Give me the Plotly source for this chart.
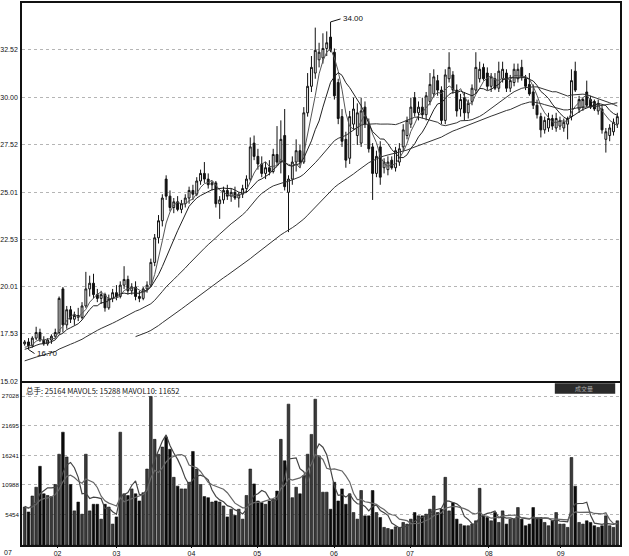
import plotly.graph_objects as go
from plotly.subplots import make_subplots

# ---------------- data ----------------
pre_closes = [15.2, 15.3, 15.1, 15.4, 15.5, 15.3, 15.6, 15.5, 15.7, 15.6,
              15.8, 15.9, 15.7, 16.0, 16.1, 15.9, 16.2, 16.3, 16.1, 16.4,
              16.5, 16.4, 16.6, 16.7, 16.5, 16.8, 16.7, 16.9, 16.6, 16.8]
pre_volumes = [5200, 6100, 7400, 5800, 6900, 6300, 7700, 6600, 7200, 6800]

opens = [17.0, 17.1, 16.9, 17.3, 17.6, 17.2, 17.0, 17.2, 17.4, 17.6,
         19.9, 18.0, 18.8, 18.3, 18.5, 18.4, 19.0, 19.9, 20.2, 19.6,
         19.4, 19.6, 18.9, 19.4, 19.7, 19.5, 20.1, 20.4, 19.8, 20.0,
         19.5, 19.4, 19.9, 20.1, 21.3, 22.6, 23.5, 25.7, 24.8, 24.2,
         24.5, 24.1, 24.4, 24.7, 25.1, 24.9, 25.6, 26.0, 25.7, 25.4,
         25.5, 24.4, 24.6, 25.1, 24.8, 25.0, 24.7, 24.9, 25.2, 25.7,
         27.6, 26.9, 26.5, 26.0, 26.3, 26.1, 27.0, 26.6, 28.0, 25.0,
         25.7, 26.6, 27.2, 26.6, 29.2, 30.6, 31.3, 32.0, 32.1, 32.6,
         33.2, 32.4, 30.8, 29.0, 27.8, 26.8, 28.6, 28.0, 27.6, 29.5,
         28.6, 27.4, 26.0, 27.4, 26.3, 26.2, 26.7, 26.3, 26.6, 27.4,
         28.0, 28.6, 30.0, 29.2, 29.5, 29.1, 29.8, 30.2, 30.9, 30.4,
         28.8, 31.0, 31.2, 30.4, 29.4, 30.0, 29.2, 29.8, 30.4, 31.0,
         31.6, 31.3, 30.6, 31.0, 30.5, 31.0, 31.3, 30.5, 30.8, 31.0,
         31.6, 31.0, 30.7, 30.3, 29.6, 29.0, 28.3, 28.4, 28.9, 28.4,
         28.5, 28.4, 28.6, 29.0, 31.4, 29.4, 29.5, 30.3, 29.9, 29.8,
         29.3, 29.4, 27.8, 28.0, 28.2, 28.6]
highs = [17.2, 17.3, 17.4, 17.9, 17.8, 17.4, 17.3, 17.5, 17.8, 19.5,
         20.0, 19.0, 19.0, 18.7, 18.9, 19.2, 20.8, 20.6, 20.7, 19.9,
         19.8, 19.7, 19.6, 19.9, 20.1, 20.3, 21.1, 20.6, 20.2, 20.3,
         19.8, 20.0, 20.3, 21.5, 22.8, 23.8, 24.9, 25.9, 25.1, 24.7,
         24.8, 24.6, 24.9, 25.3, 25.4, 25.8, 26.2, 26.6, 26.0, 25.6,
         25.6, 24.8, 25.3, 25.4, 25.2, 25.3, 25.0, 25.4, 25.9, 27.9,
         28.0, 27.3, 26.9, 26.6, 26.7, 27.3, 28.5, 28.8, 29.4, 25.9,
         26.9, 27.8, 27.5, 29.5, 31.3, 32.2, 33.7, 32.9, 33.4, 33.5,
         34.0, 32.6, 31.0, 29.4, 28.2, 29.3, 30.0, 29.7, 30.0, 29.8,
         28.9, 27.6, 27.2, 27.7, 26.8, 26.9, 26.9, 27.4, 27.6, 28.6,
         29.0, 30.0, 30.3, 29.8, 30.0, 30.3, 31.3, 31.5, 31.2, 30.6,
         31.5, 32.4, 31.4, 30.7, 30.2, 30.3, 29.9, 30.7, 32.4, 31.9,
         31.8, 31.6, 31.3, 31.3, 31.9, 31.9, 31.5, 31.2, 31.8, 31.8,
         32.0, 31.2, 31.3, 30.7, 29.9, 29.2, 29.0, 29.2, 29.1, 29.2,
         29.0, 28.9, 29.0, 31.5, 31.9, 30.1, 30.0, 30.9, 30.1, 29.9,
         29.9, 29.6, 28.4, 28.6, 28.9, 29.2]
lows = [16.9, 16.7, 16.8, 17.2, 17.1, 16.9, 16.9, 17.0, 17.3, 17.5,
        17.6, 17.8, 18.1, 18.0, 18.2, 18.3, 18.9, 19.5, 19.4, 19.2,
        19.1, 18.7, 18.8, 19.2, 19.3, 19.4, 19.9, 19.6, 19.6, 19.3,
        19.2, 19.3, 19.7, 20.0, 21.1, 22.3, 23.2, 24.6, 24.0, 23.9,
        24.0, 23.9, 24.2, 24.4, 24.6, 24.8, 25.4, 25.5, 25.2, 25.1,
        24.2, 23.6, 24.4, 24.6, 24.5, 24.6, 24.2, 24.7, 25.0, 25.6,
        26.7, 26.2, 25.8, 25.7, 25.9, 26.0, 26.4, 26.0, 25.1, 22.9,
        25.4, 26.1, 26.3, 26.5, 29.0, 30.3, 31.0, 31.6, 31.8, 32.2,
        32.4, 29.9, 28.6, 27.4, 26.3, 26.5, 28.3, 27.5, 27.4, 28.4,
        27.1, 24.6, 25.8, 25.4, 26.0, 25.9, 26.2, 26.1, 26.4, 27.2,
        27.8, 28.4, 29.0, 28.8, 28.9, 28.8, 29.6, 30.0, 30.1, 28.6,
        28.6, 30.8, 30.2, 29.0, 29.0, 28.8, 28.9, 29.6, 30.2, 30.8,
        30.9, 30.4, 30.3, 30.4, 30.3, 30.8, 30.3, 30.3, 30.6, 30.8,
        30.9, 30.4, 30.1, 29.4, 28.9, 27.9, 28.1, 28.2, 28.3, 28.2,
        28.3, 28.2, 27.8, 28.8, 30.3, 29.2, 29.3, 29.5, 29.4, 29.3,
        29.1, 28.1, 27.1, 27.7, 28.0, 28.4]
closes = [17.1, 16.9, 17.3, 17.6, 17.2, 17.0, 17.2, 17.4, 17.6, 19.4,
          18.0, 18.8, 18.3, 18.5, 18.4, 19.0, 19.9, 20.2, 19.6, 19.4,
          19.6, 18.9, 19.4, 19.7, 19.5, 20.1, 20.4, 19.8, 20.0, 19.5,
          19.4, 19.9, 20.1, 21.3, 22.6, 23.5, 24.7, 24.8, 24.2, 24.5,
          24.1, 24.4, 24.7, 25.1, 24.9, 25.6, 26.0, 25.7, 25.4, 25.5,
          24.4, 24.6, 25.1, 24.8, 25.0, 24.7, 24.9, 25.2, 25.7, 27.4,
          26.9, 26.5, 26.0, 26.3, 26.1, 27.0, 26.6, 27.8, 25.3, 25.7,
          26.6, 27.2, 26.6, 29.2, 30.6, 31.6, 32.5, 32.4, 32.6, 32.9,
          32.5, 30.1, 28.9, 27.7, 26.7, 29.0, 29.4, 29.2, 29.3, 28.6,
          27.3, 26.0, 26.9, 25.8, 26.6, 26.6, 26.3, 27.2, 27.3, 28.3,
          28.8, 29.5, 29.2, 29.5, 29.1, 30.1, 30.7, 31.1, 30.4, 28.8,
          31.2, 31.6, 30.4, 29.3, 29.9, 29.2, 29.7, 30.5, 31.6, 31.5,
          31.0, 30.6, 31.1, 30.5, 31.4, 31.5, 30.5, 30.9, 31.5, 31.5,
          31.1, 30.6, 30.2, 29.6, 29.1, 28.3, 28.8, 28.9, 28.5, 28.9,
          28.8, 28.7, 28.9, 30.9, 30.4, 29.9, 29.9, 29.6, 29.5, 29.4,
          29.7, 28.3, 28.2, 28.4, 28.7, 29.0]
volumes = [6900, 6000, 8900, 10500, 14300, 9300, 9000, 8800, 11000, 16500,
           20500, 16000, 11000, 6200, 7800, 5600, 16500, 6200, 7400, 7400,
           4700, 7400, 6900, 3800, 5100, 20500, 9300, 9000, 10200, 9300,
           8000, 9500, 13800, 27000, 19200, 16500, 17800, 19600, 17400, 12300,
           10700, 10200, 10200, 11400, 17000, 13800, 11000, 8800, 8600, 7800,
           8000, 7800, 7100, 5100, 6500, 5400, 6500, 4700, 9000, 13800,
           11100, 8000, 7700, 7400, 8000, 8300, 9800, 19200, 15300, 25600,
           8600, 10500, 9300, 12600, 16500, 20100, 26500, 16200, 9600, 9600,
           6500, 11400, 8000, 10200, 7400, 9300, 5900, 4700, 9900, 5300,
           5300, 9900, 5900, 5000, 3200, 3000, 2800, 3300, 3200, 4100,
           3800, 4700, 5900, 5300, 5300, 5600, 6500, 8900, 5900, 6500,
           12300, 6200, 7700, 4700, 3800, 3500, 3500, 3800, 4400, 10300,
           5300, 5000, 4400, 5900, 4100, 6200, 3800, 4700, 4700, 6800,
           4700, 3500, 3800, 6800, 5000, 5000, 4100, 3500, 4400, 5900,
           3800, 3800, 3200, 15900, 10700, 4100, 3800, 4400, 4100, 3500,
           3200, 3500, 5300, 3500, 3200, 4400]

price_ticks = [15.02, 17.53, 20.01, 22.53, 25.01, 27.52, 30.00, 32.52, 35.00]
price_tick_text = ["15.02", "17.53", "20.01", "22.53", "25.01", "27.52", "30.00", "32.52", "35.00"]
vol_ticks = [5454, 10988, 16241, 21695, 27028]
vol_tick_text = ["5454", "10988", "16241", "21695", "27028"]
month_index = [8.6, 24.0, 43.6, 60.8, 80.9, 100.8, 121.4, 140.2]
month_labels = ["02", "03", "04", "05", "06", "07", "08", "09"]
first_label = "07"
header_text = "总手: 25164 MAVOL5: 15288 MAVOL10: 11652"
ma_periods = [5, 10, 30, 60]
vol_ma_periods = [5, 10]


def moving_avg(pre, vals, n):
    allv = pre + vals
    off = len(pre)
    out = []
    for i in range(len(vals)):
        j = off + i
        if j - n + 1 < 0:
            out.append(None)
        else:
            out.append(sum(allv[j - n + 1:j + 1]) / n)
    return out


x = list(range(len(closes)))

fig = make_subplots(rows=2, cols=1, shared_xaxes=True)

fig.add_trace(go.Candlestick(
    x=x, open=opens, high=highs, low=lows, close=closes,
    increasing=dict(line=dict(color="#111", width=1), fillcolor="white"),
    decreasing=dict(line=dict(color="#111", width=1), fillcolor="#111"),
    whiskerwidth=0, showlegend=False, hoverinfo="skip"), row=1, col=1)

ma_colors = ["#555", "#222", "#333", "#333"]
for p, c in zip(ma_periods, ma_colors):
    fig.add_trace(go.Scatter(x=x, y=moving_avg(pre_closes, closes, p), mode="lines",
                             line=dict(color=c, width=1), showlegend=False,
                             hoverinfo="skip"), row=1, col=1)

bar_fill = ["#3a3a3a" if c >= o else "#0a0a0a" for o, c in zip(opens, closes)]
fig.add_trace(go.Bar(x=x, y=volumes, marker=dict(color=bar_fill, line=dict(color="#111", width=0.6)),
                     showlegend=False, hoverinfo="skip"), row=2, col=1)
for p, c in zip(vol_ma_periods, ["#444", "#666"]):
    fig.add_trace(go.Scatter(x=x, y=moving_avg(pre_volumes, volumes, p), mode="lines",
                             line=dict(color=c, width=1.2), showlegend=False,
                             hoverinfo="skip"), row=2, col=1)

tickfont = dict(family="Liberation Sans", size=7, color="#111")
voltickfont = dict(family="Liberation Sans", size=6.2, color="#111")
xtickfont = dict(family="Liberation Sans", size=7, color="#111")
grid = dict(showgrid=True, gridcolor="#b5b5b5", griddash="dot", gridwidth=0.7)

fig.update_layout(
    width=629, height=556,
    margin=dict(l=22, r=9, t=3, b=11),
    paper_bgcolor="white", plot_bgcolor="white",
    bargap=0.3,
    xaxis=dict(range=[-0.7, len(closes) - 0.3], showticklabels=False, showgrid=False,
               showline=True, linecolor="#111", linewidth=1.5, mirror=True,
               rangeslider=dict(visible=False), zeroline=False, automargin=False),
    xaxis2=dict(range=[-0.7, len(closes) - 0.3], showgrid=False, showline=True,
                linecolor="#111", linewidth=1.5, mirror=True,
                tickvals=month_index, ticktext=month_labels, ticks="outside",
                ticklen=1, tickcolor="#111", tickfont=xtickfont, zeroline=False,
                automargin=False, ticklabelstandoff=0),
    yaxis=dict(domain=[0.302, 1.0], range=[15.02, 35.0], tickvals=price_ticks,
               ticktext=price_tick_text, tickfont=tickfont, showline=True,
               linecolor="#111", linewidth=1.5, mirror=True, zeroline=False,
               ticks="", ticklabelstandoff=1, automargin=False, **grid),
    yaxis2=dict(domain=[0.0, 0.2983], range=[0, 29386], tickvals=vol_ticks,
                ticktext=vol_tick_text, tickfont=voltickfont, showline=True,
                linecolor="#111", linewidth=1.5, mirror=True, zeroline=False,
                ticks="", ticklabelstandoff=0, automargin=False, **grid),
    annotations=[
        dict(x=0.004, y=1.0, xref="x2 domain", yref="y2 domain", text=header_text,
             showarrow=False, xanchor="left", yanchor="top",
             font=dict(family="Noto Sans CJK SC", size=7.5, color="#111")),
        dict(x=0.94, y=0.967, xref="x2 domain", yref="y2 domain", text="成交量",
             showarrow=False, xanchor="center", yanchor="middle",
             font=dict(family="Noto Sans CJK SC", size=6, color="#aaa")),
        dict(x=80, y=34.0, xref="x", yref="y", text="34.00", showarrow=True,
             arrowhead=0, arrowwidth=1, arrowcolor="#111", ax=10, ay=-3,
             xanchor="left", font=dict(family="Liberation Sans", size=8, color="#111")),
        dict(x=1, y=16.7, xref="x", yref="y", text="16.70", showarrow=True,
             arrowhead=0, arrowwidth=1, arrowcolor="#111", ax=6, ay=4,
             xanchor="left", font=dict(family="Liberation Sans", size=8, color="#111")),
        dict(x=-0.034, y=-0.012, xref="x2 domain", yref="y2 domain", text=first_label,
             showarrow=False, xanchor="left", yanchor="top", font=xtickfont),
    ],
    shapes=[
        dict(type="rect", xref="x2 domain", yref="y2 domain", x0=0.891, x1=0.992,
             y0=0.935, y1=1.0, fillcolor="#2a2a2a", line=dict(width=0)),
    ],
)

fig.write_html("out.html", config={"displayModeBar": False},
               post_script="document.body.style.margin='0';document.body.style.padding='0';")
